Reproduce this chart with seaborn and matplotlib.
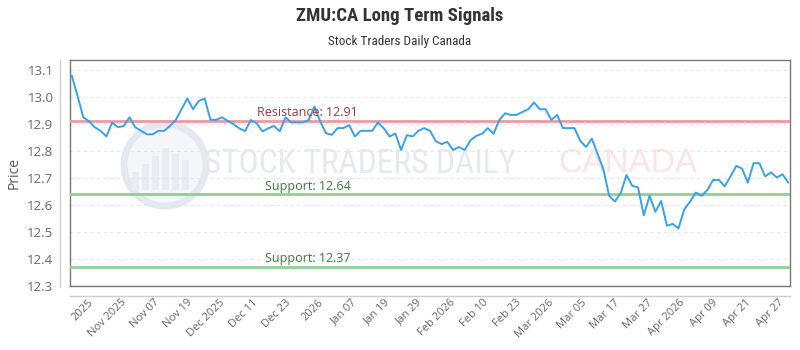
import numpy as np
import pandas as pd
import seaborn as sns
import matplotlib.pyplot as plt
from matplotlib import font_manager, transforms
from matplotlib.lines import Line2D
from matplotlib.patches import Circle, Rectangle

# closing prices, one per trading session
price = [
    13.08, 13.005, 12.925, 12.91, 12.888, 12.875, 12.854, 12.906, 12.888, 12.893,
    12.925, 12.888, 12.875, 12.862, 12.862, 12.875, 12.875, 12.893, 12.915, 12.955,
    12.995, 12.955, 12.986, 12.995, 12.916, 12.916, 12.925, 12.912, 12.90, 12.884,
    12.874, 12.915, 12.903, 12.873, 12.884, 12.893, 12.873, 12.925, 12.906, 12.906,
    12.906, 12.915, 12.965, 12.91, 12.866, 12.86, 12.885, 12.885, 12.896, 12.854,
    12.875, 12.875, 12.875, 12.906, 12.884, 12.854, 12.865, 12.804, 12.859, 12.854,
    12.875, 12.885, 12.875, 12.837, 12.826, 12.834, 12.804, 12.815, 12.804, 12.84,
    12.856, 12.864, 12.885, 12.864, 12.915, 12.94, 12.934, 12.934, 12.945, 12.955,
    12.98, 12.955, 12.955, 12.915, 12.934, 12.885, 12.885, 12.885, 12.838, 12.815,
    12.846, 12.79, 12.733, 12.634, 12.613, 12.644, 12.711, 12.671, 12.665, 12.562,
    12.634, 12.575, 12.615, 12.523, 12.53, 12.513, 12.584, 12.612, 12.646, 12.634,
    12.656, 12.693, 12.693, 12.669, 12.706, 12.745, 12.735, 12.683, 12.755, 12.755,
    12.706, 12.721, 12.702, 12.714, 12.683,
]

tick_labels = [
    "2025", "Nov 2025", "Nov 07", "Nov 19", "Dec 2025", "Dec 11", "Dec 23",
    "2026", "Jan 07", "Jan 19", "Jan 29", "Feb 2026", "Feb 10", "Feb 23",
    "Mar 2026", "Mar 05", "Mar 17", "Mar 27", "Apr 2026", "Apr 09", "Apr 21",
    "Apr 27",
]

resistance = [12.91]
support = [12.64, 12.37]

df = pd.DataFrame({"idx": np.arange(len(price)), "price": price})

# pick a narrow face for the title and watermark if one is around
installed = {f.name for f in font_manager.fontManager.ttflist}
narrow = "DejaVu Sans"
for cand in ["Liberation Sans Narrow", "Roboto Condensed", "Open Sans Condensed",
             "DejaVu Sans Condensed", "Roboto"]:
    if cand in installed:
        narrow = cand
        break

sns.set_style("white")
plt.rcParams["font.family"] = ["Open Sans", "DejaVu Sans"]

fig = plt.figure(figsize=(8, 3.5), dpi=100)
ax = fig.add_axes([0.0875, 0.183, 0.9, 0.646])

# watermark (logo ring + words), in inches so the ring stays round
inch = fig.dpi_scale_trans
ax.add_patch(Circle((1.65, 1.85), 0.41, transform=inch, facecolor="#f4f6fa",
                    edgecolor="#e3e8f1", lw=5, zorder=0))
for bx, bh in [(1.32, 0.18), (1.42, 0.26), (1.52, 0.34), (1.62, 0.42),
               (1.72, 0.36), (1.82, 0.30)]:
    ax.add_patch(Rectangle((bx, 1.60), 0.07, bh, transform=inch,
                           facecolor="#e8ecf3", edgecolor="none", zorder=0))
ax.text(2.04, 1.86, "STOCK TRADERS DAILY", transform=inch,
        fontsize=24, color="#e6e9f0", va="center", ha="left",
        family=[narrow, "DejaVu Sans"], fontstretch="condensed", zorder=0)
ax.text(6.97, 1.86, "CANADA", transform=inch,
        fontsize=24, color="#fce4e4", va="center", ha="right",
        family=["Liberation Sans", "DejaVu Sans"], zorder=0)

sns.lineplot(data=df, x="idx", y="price", ax=ax, color="#36a2eb",
             linewidth=1.4, zorder=5)

lbl = transforms.blended_transform_factory(ax.transAxes, ax.transData)
for r in resistance:
    ax.axhline(r, color="#eb9a9f", lw=2, zorder=3)
    ax.text(0.33, r + 0.008, f"Resistance: {r:.2f}", transform=lbl,
            ha="center", va="bottom", fontsize=9, color="#a8323c", zorder=6)
for s in support:
    ax.axhline(s, color="#92cf92", lw=2, zorder=3)
    ax.text(0.33, s + 0.006, f"Support: {s:.2f}", transform=lbl,
            ha="center", va="bottom", fontsize=9, color="#3a7a3a", zorder=6)

ax.set_xlim(-0.3, len(price) - 0.7)
ax.set_ylim(12.3, 13.138)
yt = np.arange(12.3, 13.15, 0.1)
ax.set_yticks(yt)
ax.set_yticklabels([f"{v:.1f}" for v in yt])
ax.yaxis.grid(True, color="#e6e6e6", linestyle=(0, (3, 3)), lw=0.8)
ax.xaxis.grid(False)

ax.set_xticks(np.linspace(2.8, 122.3, len(tick_labels)))
ax.set_xticklabels(tick_labels, rotation=45, ha="right",
                   rotation_mode="anchor")
ax.tick_params(axis="x", length=0, pad=8, labelsize=8, labelcolor="#666666")
ax.tick_params(axis="y", length=0, pad=12, labelsize=9.5, labelcolor="#666666")

ax.set_xlabel("")
ax.set_ylabel("Price", fontsize=10, color="#555555", labelpad=4)

for sp in ax.spines.values():
    sp.set_visible(True)
    sp.set_color("#777777")
    sp.set_linewidth(1)

# outer axis lines
fig.add_artist(Line2D([60 / 800, 60 / 800], [1 - 60 / 350, 1 - 287 / 350],
                      transform=fig.transFigure, color="#cccccc", lw=1))
fig.add_artist(Line2D([70 / 800, 790 / 800], [1 - 296 / 350, 1 - 296 / 350],
                      transform=fig.transFigure, color="#cccccc", lw=1))

fig.text(0.5, 0.955, "ZMU:CA Long Term Signals", ha="center", va="center",
         fontsize=13.5, fontweight="bold", color="#333333",
         family=[narrow, "DejaVu Sans"], fontstretch="condensed")
fig.text(0.5, 0.882, "Stock Traders Daily Canada", ha="center", va="center",
         fontsize=9.5, color="#333333",
         family=[narrow, "DejaVu Sans"], fontstretch="condensed")

fig.savefig("out.png", dpi=100)
